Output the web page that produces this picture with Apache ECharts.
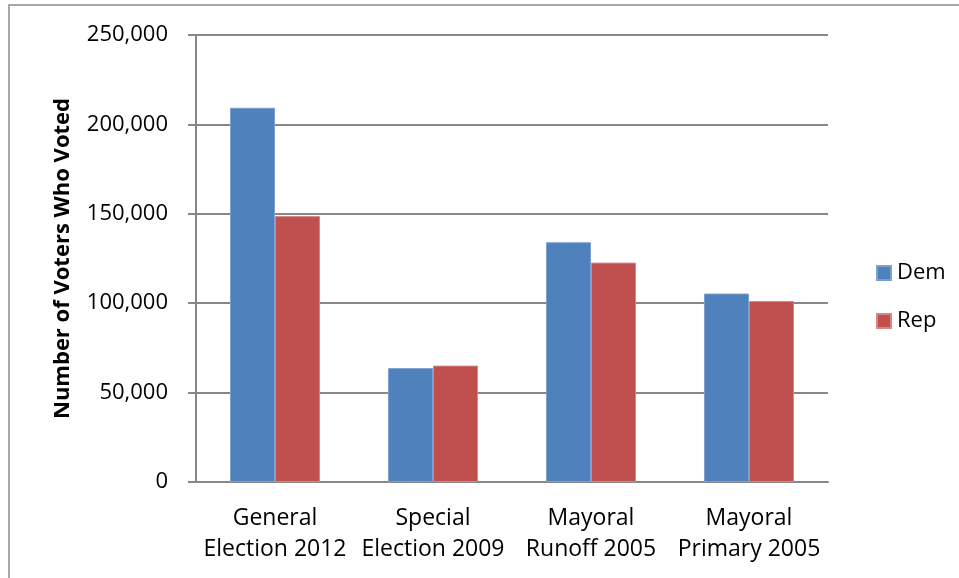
<!DOCTYPE html>
<html>
<head>
<meta charset="utf-8">
<script src="https://cdn.jsdelivr.net/npm/echarts@6/dist/echarts.min.js"></script>
<style>
  html, body { margin: 0; padding: 0; background: #ffffff; }
  #chart { width: 959px; height: 578px; }
</style>
</head>
<body>
<div id="chart"></div>
<script>
// Election turnout by party
var categories = ['General\nElection 2012', 'Special\nElection 2009', 'Mayoral\nRunoff 2005', 'Mayoral\nPrimary 2005'];
var demVotes = [209300, 63700, 134100, 105400];
var repVotes = [148700, 65100, 122700, 101200];
var yTicks = [0, 50000, 100000, 150000, 200000, 250000];

var FONT = '"Open Sans", "Noto Sans", sans-serif';

function fmt(v) {
  return v.toString().replace(/\B(?=(\d{3})+(?!\d))/g, ',');
}

var chart = echarts.init(document.getElementById('chart'), null, { renderer: 'canvas' });

chart.setOption({
  animation: false,
  backgroundColor: '#ffffff',
  graphic: [{
    type: 'rect',
    shape: { x: 9, y: 5, width: 980, height: 620 },
    style: { fill: 'none', stroke: '#8c8c8c', lineWidth: 1.5 },
    silent: true
  }],
  grid: { left: 196, top: 35, width: 632, height: 447, containLabel: false },
  legend: {
    orient: 'vertical',
    left: 871,
    top: 257,
    itemWidth: 14,
    itemHeight: 14,
    itemGap: 26,
    icon: 'rect',
    textStyle: { fontFamily: FONT, fontSize: 22, color: '#000000', padding: [0, 0, 0, 1] },
    data: ['Dem', 'Rep']
  },
  xAxis: {
    type: 'category',
    data: categories,
    axisLine: { show: true, lineStyle: { color: '#878787', width: 2 } },
    axisTick: { show: false },
    axisLabel: {
      interval: 0,
      margin: 21,
      fontFamily: FONT,
      fontSize: 23,
      lineHeight: 31,
      color: '#000000'
    }
  },
  yAxis: {
    type: 'value',
    min: yTicks[0],
    max: yTicks[yTicks.length - 1],
    interval: yTicks[1] - yTicks[0],
    name: 'Number of Voters Who Voted',
    nameLocation: 'middle',
    nameGap: 122,
    nameRotate: 90,
    nameTextStyle: { fontFamily: FONT, fontSize: 22, fontWeight: 'bold', color: '#000000' },
    axisLine: { show: true, lineStyle: { color: '#878787', width: 2 } },
    axisTick: { show: true, length: 8, lineStyle: { color: '#878787', width: 2 } },
    splitLine: { show: true, lineStyle: { color: '#878787', width: 2 } },
    axisLabel: {
      margin: 28,
      fontFamily: FONT,
      fontSize: 22,
      color: '#000000',
      formatter: function (v) { return fmt(v); }
    }
  },
  series: [
    {
      name: 'Dem',
      type: 'bar',
      data: demVotes,
      barGap: '0%',
      barCategoryGap: '43%',
      itemStyle: { color: '#4F81BD', borderColor: '#7DA1CF', borderWidth: 1 }
    },
    {
      name: 'Rep',
      type: 'bar',
      data: repVotes,
      barGap: '0%',
      barCategoryGap: '43%',
      itemStyle: { color: '#C0504D', borderColor: '#D48784', borderWidth: 1 }
    }
  ]
});
</script>
</body>
</html>
